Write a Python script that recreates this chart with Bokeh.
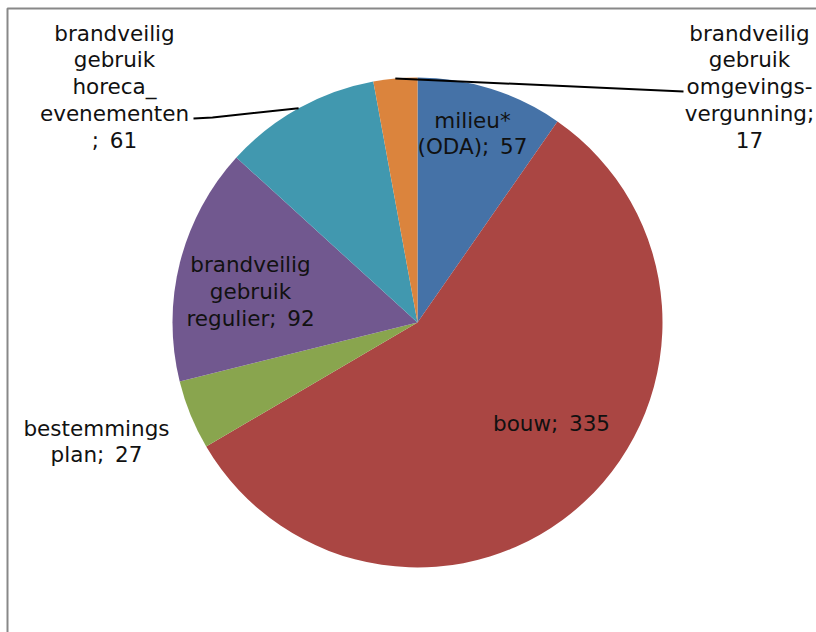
import math
from bokeh.plotting import figure
from bokeh.models import Range1d, ColumnDataSource
from bokeh.core.properties import value
from bokeh.embed import file_html
from bokeh.resources import INLINE

# ---- data ----
categories = ["milieu*\n(ODA)", "bouw", "bestemmings\nplan", "brandveilig\ngebruik\nregulier",
              "brandveilig\ngebruik\nhoreca_\nevenementen\n", "brandveilig\ngebruik\nomgevings-\nvergunning"]
values = [57, 335, 27, 92, 61, 17]
colors = ["#4572A7", "#AA4643", "#89A54E", "#71588F", "#4198AF", "#DB843D"]
seps = [";\u2002", ";\u2002", ";\u2002", ";\u2002", ";\u2002", ";\n"]

# ---- layout (screen pixel positions converted to data coords) ----
W, H = 816, 632
def dx(px):
    return px
def dy(py):
    return H - py

cx, cy, R = dx(417), dy(322), 245
label_px = [(472, 133), (551, 423), (96, 441), (250, 291), (114, 86), (749, 86)]

total = float(sum(values))
starts, ends, mids = [], [], []
acc = 0.0
for v in values:
    a0 = math.pi / 2 - 2 * math.pi * acc / total
    acc += v
    a1 = math.pi / 2 - 2 * math.pi * acc / total
    starts.append(a0)
    ends.append(a1)
    mids.append((a0 + a1) / 2)

src = ColumnDataSource(dict(start=starts, end=ends, color=colors))

p = figure(width=W, height=H, output_backend="svg", toolbar_location=None,
           x_range=Range1d(0, W), y_range=Range1d(0, H), min_border=0)
p.axis.visible = False
p.grid.visible = False
p.outline_line_color = None
p.background_fill_color = "white"
p.border_fill_color = "white"

# chart-area frame (left and top edges visible)
p.line([dx(7), dx(7), dx(W + 5)], [dy(H + 5), dy(8), dy(8)], line_color="#888888", line_width=2)

p.wedge(x=cx, y=cy, radius=R, start_angle="start", end_angle="end", direction="clock",
        fill_color="color", line_color=None, source=src)

# leader lines for outside labels
m = mids[4]
ex, ey = cx + R * math.cos(m), cy + R * math.sin(m)
p.line([ex, dx(212), dx(193)], [ey, dy(117), dy(118)], line_color="black", line_width=2)
m = mids[5]
ex, ey = cx + R * math.cos(m), cy + R * math.sin(m)
p.line([ex, dx(683)], [ey, dy(91)], line_color="black", line_width=2)

labels = [c + s + str(v) for c, s, v in zip(categories, seps, values)]
labels[4] = categories[4] + ";\u2002" + str(values[4])
lsrc = ColumnDataSource(dict(x=[dx(a) for a, b in label_px], y=[dy(b) for a, b in label_px], t=labels))
p.text(x="x", y="y", text="t", source=lsrc, text_align="center", text_baseline="middle",
       text_font=value("DejaVu Sans"), text_font_size="21.5px", text_color="#111111",
       text_line_height=1.07)

open("out.html", "w").write(file_html(p, INLINE))
